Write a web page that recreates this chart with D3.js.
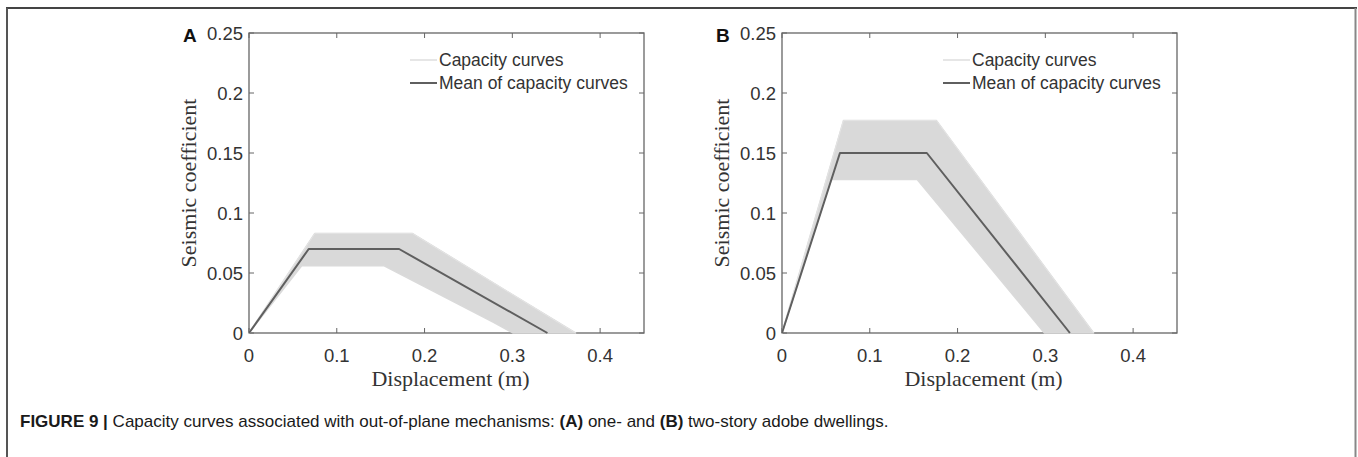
<!DOCTYPE html>
<html>
<head>
<meta charset="utf-8">
<script src="https://cdn.jsdelivr.net/npm/d3@7.9.0/dist/d3.min.js"></script>
<style>
  body { margin: 0; background: #fff; }
  svg { display: block; }
</style>
</head>
<body>
<svg id="fig" width="1358" height="457"></svg>
<script>
// ================================
// Data
// ================================
const xTicks = [0, 0.1, 0.2, 0.3, 0.4];
const yTicks = [0, 0.05, 0.1, 0.15, 0.2, 0.25];
const xMax = 0.45;
const yMax = 0.25;

// panel A: one-story dwellings
const meanA = [[0, 0], [0.068, 0.07], [0.171, 0.07], [0.340, 0]];
const upperA = [[0, 0], [0.075, 0.083], [0.186, 0.083], [0.372, 0]];
const lowerA = [[0.301, 0], [0.278, 0.009], [0.154, 0.056], [0.060, 0.056], [0, 0]];

// panel B: two-story dwellings
const meanB = [[0, 0], [0.066, 0.150], [0.165, 0.150], [0.328, 0]];
const upperB = [[0, 0], [0.070, 0.177], [0.176, 0.177], [0.355, 0]];
const lowerB = [[0.299, 0], [0.154, 0.128], [0.056, 0.128], [0, 0]];

const legendLabels = ["Capacity curves", "Mean of capacity curves"];
const panelLetters = ["A", "B"];

const svg = d3.select("#fig");
const sans = "'Liberation Sans', Arial, sans-serif";
const serif = "'Liberation Serif', 'Times New Roman', serif";

// ================================
// Frame around the figure
// ================================
svg.append("line").attr("x1", 6).attr("x2", 1357).attr("y1", 8).attr("y2", 8)
  .attr("stroke", "#444").attr("stroke-width", 2);
svg.append("line").attr("x1", 7).attr("x2", 7).attr("y1", 8).attr("y2", 457)
  .attr("stroke", "#555").attr("stroke-width", 2);
svg.append("line").attr("x1", 1355.5).attr("x2", 1355.5).attr("y1", 8).attr("y2", 457)
  .attr("stroke", "#888").attr("stroke-width", 2);

// ================================
// Helper: drawPanel()
// ================================
function drawPanel(left, letter, mean, upper, lower) {
  const top = 33, w = 395, h = 300;
  const x = d3.scaleLinear().domain([0, xMax]).range([left, left + w]);
  const y = d3.scaleLinear().domain([0, yMax]).range([top + h, top]);
  const g = svg.append("g");
  const axisColor = "#666";
  const textColor = "#333";

  // box
  g.append("rect").attr("x", left).attr("y", top).attr("width", w).attr("height", h)
    .attr("fill", "none").attr("stroke", axisColor).attr("stroke-width", 1.3);

  // ticks (inside, all four sides)
  const tl = 5;
  xTicks.forEach((t) => {
    g.append("line").attr("x1", x(t)).attr("x2", x(t)).attr("y1", top + h).attr("y2", top + h - tl)
      .attr("stroke", axisColor);
    g.append("line").attr("x1", x(t)).attr("x2", x(t)).attr("y1", top).attr("y2", top + tl)
      .attr("stroke", axisColor);
  });
  yTicks.forEach((t) => {
    g.append("line").attr("x1", left).attr("x2", left + tl).attr("y1", y(t)).attr("y2", y(t))
      .attr("stroke", axisColor);
    g.append("line").attr("x1", left + w).attr("x2", left + w - tl).attr("y1", y(t)).attr("y2", y(t))
      .attr("stroke", axisColor);
  });

  // tick labels
  g.selectAll(".xt").data(xTicks).join("text")
    .attr("x", (d) => x(d)).attr("y", top + h + 29)
    .attr("text-anchor", "middle")
    .style("font", `18.5px ${sans}`).attr("fill", textColor)
    .text((d) => d3.format("~g")(d));
  g.selectAll(".yt").data(yTicks).join("text")
    .attr("x", left - 6).attr("y", (d) => y(d) + 6.5)
    .attr("text-anchor", "end")
    .style("font", `18.5px ${sans}`).attr("fill", textColor)
    .text((d) => d3.format("~g")(d));

  // panel letter
  g.append("text").attr("x", left - 66).attr("y", top + 8.5)
    .style("font", `bold 19px ${sans}`).attr("fill", "#111").text(letter);

  // axis labels
  g.append("text").attr("x", left + w / 2 + 4).attr("y", top + h + 53)
    .attr("text-anchor", "middle").style("font", `22px ${serif}`).attr("fill", textColor)
    .text("Displacement (m)");
  g.append("text")
    .attr("transform", `translate(${left - 53},${top + h / 2}) rotate(-90)`)
    .attr("text-anchor", "middle").style("font", `22px ${serif}`).attr("fill", textColor)
    .text("Seismic coefficient");

  // band of capacity curves (drawn over the axis line, as in the figure)
  const line = d3.line().x((d) => x(d[0])).y((d) => y(d[1]));
  g.append("path").attr("d", line(upper.concat(lower)) + "Z")
    .attr("fill", "#d9d9d9").attr("stroke", "#dadada").attr("stroke-width", 1.5)
    .attr("stroke-linejoin", "round");
  g.append("path").attr("d", line(upper))
    .attr("fill", "none").attr("stroke", "#e4e4e4").attr("stroke-width", 1);

  // mean curve
  g.append("path").attr("d", line(mean))
    .attr("fill", "none").attr("stroke", "#5f5f5f").attr("stroke-width", 2)
    .attr("stroke-linejoin", "round");

  // legend
  const lx = left + 161;
  const legendColors = ["#e6e6e6", "#5f5f5f"];
  legendLabels.forEach((lab, i) => {
    const ly = 60 + i * 23;
    g.append("line").attr("x1", lx).attr("x2", lx + 27).attr("y1", ly).attr("y2", ly)
      .attr("stroke", legendColors[i]).attr("stroke-width", 2);
    g.append("text").attr("x", lx + 29).attr("y", ly + 6)
      .style("font", `17.5px ${sans}`).attr("fill", textColor).text(lab);
  });
}

drawPanel(249, panelLetters[0], meanA, upperA, lowerA);
drawPanel(782, panelLetters[1], meanB, upperB, lowerB);

// ================================
// Caption
// ================================
const cap = svg.append("text").attr("x", 20).attr("y", 427)
  .style("font", `17px ${sans}`).attr("fill", "#1a1a1a");
[
  ["FIGURE 9 |", true],
  [" Capacity curves associated with out-of-plane mechanisms: ", false],
  ["(A)", true],
  [" one- and ", false],
  ["(B)", true],
  [" two-story adobe dwellings.", false],
].forEach(([t, b]) => {
  cap.append("tspan").attr("font-weight", b ? "bold" : "normal").text(t);
});
</script>
</body>
</html>
